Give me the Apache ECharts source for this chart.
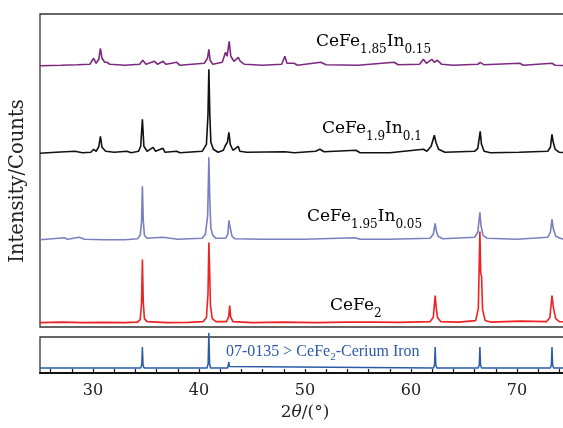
<!DOCTYPE html>
<html>
<head>
<meta charset="utf-8">
<script src="https://cdn.jsdelivr.net/npm/echarts@6/dist/echarts.min.js"></script>
<style>html,body{margin:0;padding:0;background:#fff}#c{width:563px;height:428px}</style>
</head>
<body>
<div id="c"></div>
<script>
// ---- data (2θ in degrees, intensity in arbitrary units above each trace's own baseline) ----
const xRange = [25, 75];
const tickValues = [26,28,30,32,34,36,38,40,42,44,46,48,50,52,54,56,58,60,62,64,66,68,70,72,74];
const tickLabels = [30,40,50,60,70];

const cefe2 = [[25,1],[27,1.5],[29,1],[31,1.2],[33,1],[34.2,1.5],[34.45,4],[34.58,20],[34.66,64],[34.74,22],[34.85,5],[35.1,2],[37,1],[39,1.2],[40.4,2],[40.7,6],[40.85,30],[40.93,81],[41.0,55],[41.08,18],[41.25,5],[41.6,2],[42.6,2],[42.8,7],[42.9,18],[42.98,7],[43.2,2],[45,1],[48,1.5],[51,1],[54,1.5],[56.3,1.5],[56.45,3],[56.6,1.5],[59,1.2],[61.8,2],[62.1,6],[62.28,28],[62.4,14],[62.5,6],[62.8,2],[64.5,1.5],[66.1,3],[66.35,15],[66.5,92],[66.58,50],[66.66,47],[66.75,14],[67.0,3],[67.5,1.5],[70.3,2.5],[72.8,2],[73.1,6],[73.3,28],[73.42,17],[73.52,15],[73.65,5],[74,2],[75,1.5]];

const cefe195 = [[25,0.5],[27.3,2.5],[27.6,1],[28.7,3],[29.2,1],[31,0.5],[33,0.5],[34.2,1.5],[34.45,5],[34.58,18],[34.66,54],[34.74,20],[34.85,5],[35.1,2],[36.6,3],[38,1],[40.3,2],[40.6,6],[40.82,25],[40.93,83],[41.02,40],[41.12,12],[41.3,5],[41.6,2],[42.5,2],[42.72,6],[42.82,20],[42.92,14],[43.0,12],[43.12,4],[43.4,1.5],[46,1],[50,1],[54.7,2.5],[55.2,1],[58,1],[61.8,2],[62.1,6],[62.28,17],[62.4,9],[62.55,4],[63,1.5],[66.0,3],[66.3,8],[66.5,28],[66.6,15],[66.66,14],[66.8,5],[67.2,2],[70,1],[72.9,3],[73.15,8],[73.3,21],[73.42,12],[73.5,11],[73.65,4],[74.2,1.5],[75,1]];

const cefe19 = [[25,1],[26.5,2],[28.3,3],[29,1.5],[29.8,2],[30.06,5],[30.3,3],[30.55,8],[30.7,18],[30.85,7],[31.2,3],[32,2],[33.2,3],[33.6,1.5],[34.3,3],[34.5,8],[34.66,35],[34.8,8],[35.1,3],[35.67,7],[35.9,3],[36.6,6],[36.8,2],[37.9,3],[38.2,1.5],[40.3,3],[40.7,10],[40.85,40],[40.93,85],[41.02,40],[41.12,12],[41.35,5],[41.8,2],[42.3,4],[42.5,9],[42.68,12],[42.82,22],[42.95,10],[43.2,4],[43.7,8],[43.85,3],[44.5,2],[48.1,2.5],[49,1.5],[51.0,3],[51.4,5],[51.8,2.5],[54.8,4],[55.2,1.5],[58,1.5],[61.17,5],[61.5,3],[61.9,8],[62.2,19],[62.35,12],[62.6,5],[63.2,2],[66.0,3],[66.3,6],[66.53,23],[66.65,10],[66.9,3],[67.5,1.5],[70.2,2],[72.9,3],[73.15,7],[73.3,20],[73.42,12],[73.6,5],[74,2],[75,1.5]];

const cefe185 = [[25,0.5],[27,1],[28.5,1.5],[29.7,2],[30.06,8],[30.3,3],[30.55,7],[30.7,18],[30.85,8],[31.1,4],[31.3,4],[31.6,2],[33,1],[34.4,2],[34.7,6],[35,2],[35.8,5],[36.1,2],[36.6,5],[36.9,2],[37.9,4],[38.2,1],[40.5,3],[40.8,8],[40.93,17],[41.05,6],[41.3,2],[42.2,4],[42.5,14],[42.65,10],[42.85,25],[43.0,10],[43.3,5],[43.7,9],[43.9,5],[44.3,2],[46,1],[47.8,2],[48.1,10],[48.3,3],[48.96,3],[49.3,1],[51.48,4],[52,1.5],[55,1],[58.4,4],[58.8,1.5],[60.8,2],[61.17,7],[61.45,3],[61.97,7],[62.2,4],[62.5,6],[62.9,2],[64,1],[66.3,2],[66.53,4],[66.9,1.5],[70.25,3],[70.6,1],[73.3,3],[73.6,1],[75,0.5]];

// PDF 07-0135 reference pattern
const refPattern = [[25,0],[34.5,0],[34.6,3],[34.66,21],[34.72,3],[34.82,0],[40.75,0],[40.86,4],[40.93,35],[41.0,4],[41.1,0],[42.7,0],[42.78,1.5],[42.82,6],[42.86,1.5],[42.95,0],[62.12,0],[62.22,3],[62.28,21],[62.34,3],[62.44,0],[66.34,0],[66.44,3],[66.5,21],[66.56,3],[66.66,0],[73.14,0],[73.24,3],[73.3,21],[73.36,3],[73.46,0],[75,0]];

const traceOffsets = [3.4, 86.7, 172.7, 260.7]; // stacking offsets (CeFe2, 1.95, 1.9, 1.85)
const refOffset = 5;

// ---- chart ----
const FONT = 'DejaVu Serif';
const LFONT = 'Liberation Serif';
function shift(arr, off){ return arr.map(p => [p[0], p[1] + off]); }

const chart = echarts.init(document.getElementById('c'), null, {renderer:'canvas'});
const lineSeries = (name, data, color, w) => ({
  name, type:'line', data, xAxisIndex:0, yAxisIndex:0, showSymbol:false, symbol:'none',
  lineStyle:{color, width:w}, clip:false, animation:false, silent:true
});

const subStyle = {fontFamily:FONT, fontSize:12, color:'#222', verticalAlign:'bottom', lineHeight:12, padding:[0,0,-4,0]};
const mainStyle = {fontFamily:FONT, fontSize:17, color:'#222', lineHeight:20};
function formulaLabel(x, y, parts){
  return {type:'text', left:x, top:y, z:10, style:{
    text: parts.map(p => '{' + p[0] + '|' + p[1] + '}').join(''),
    rich:{m:mainStyle, s:subStyle}
  }};
}

chart.setOption({
  animation:false,
  backgroundColor:'#fff',
  grid:[
    {left:40, top:14, width:530, height:313, show:true, borderColor:'#333', borderWidth:1.3, backgroundColor:'transparent', containLabel:false, outerBoundsMode:'none'},
    {left:40, top:337, width:530, height:36, show:true, borderColor:'#333', borderWidth:1.3, backgroundColor:'transparent', containLabel:false, outerBoundsMode:'none'}
  ],
  xAxis:[
    {gridIndex:0, type:'value', min:xRange[0], max:xRange[1], show:false},
    {gridIndex:1, type:'value', min:xRange[0], max:xRange[1],
     axisLine:{show:true, lineStyle:{color:'#111', width:2}},
     axisTick:{show:true, inside:true, length:4, customValues:tickValues, lineStyle:{color:'#111', width:1.2}},
     axisLabel:{customValues:tickLabels, margin:10, fontFamily:FONT, fontSize:16, color:'#222', hideOverlap:false},
     splitLine:{show:false},
     name:'{a|2}{b|θ}{a|/(°)}', nameLocation:'middle', nameGap:31,
     nameTextStyle:{rich:{a:{fontFamily:FONT, fontSize:17, color:'#222'}, b:{fontFamily:FONT, fontSize:17, fontStyle:'italic', color:'#222'}}}
    }
  ],
  yAxis:[
    {gridIndex:0, type:'value', min:0, max:313, show:false},
    {gridIndex:1, type:'value', min:0, max:36, show:false}
  ],
  series:[
    lineSeries('CeFe1.85In0.15', shift(cefe185, traceOffsets[3]), '#7b2a80', 1.6),
    lineSeries('CeFe1.9In0.1', shift(cefe19, traceOffsets[2]), '#111111', 1.6),
    lineSeries('CeFe1.95In0.05', shift(cefe195, traceOffsets[1]), '#7a7fc0', 1.6),
    lineSeries('CeFe2', shift(cefe2, traceOffsets[0]), '#ee2222', 1.6),
    {name:'07-0135', type:'line', data:shift(refPattern, refOffset), xAxisIndex:1, yAxisIndex:1,
     showSymbol:false, symbol:'none', lineStyle:{color:'#2a5aa8', width:1.5}, clip:false, animation:false, silent:true}
  ],
  graphic:[
    {type:'text', x:18, y:181, rotation:Math.PI/2, z:10,
     style:{text:'Intensity/Counts', fontFamily:FONT, fontSize:19.5, fill:'#222', align:'center', verticalAlign:'middle'}},
    formulaLabel(316, 33, [['m','CeFe'],['s','1.85'],['m','In'],['s','0.15']]),
    formulaLabel(322, 120, [['m','CeFe'],['s','1.9'],['m','In'],['s','0.1']]),
    formulaLabel(307, 208, [['m','CeFe'],['s','1.95'],['m','In'],['s','0.05']]),
    formulaLabel(330, 297, [['m','CeFe'],['s','2']]),
    {type:'text', left:226, top:344, z:10,
     style:{text:'07-0135 > CeFe{s|2}-Cerium Iron', fontFamily:LFONT, fontSize:16, fill:'#2a5aa8',
       rich:{s:{fontFamily:LFONT, fontSize:11, fill:'#2a5aa8', verticalAlign:'bottom', padding:[0,0,-3,0]}}}}
  ]
});
</script>
</body>
</html>
